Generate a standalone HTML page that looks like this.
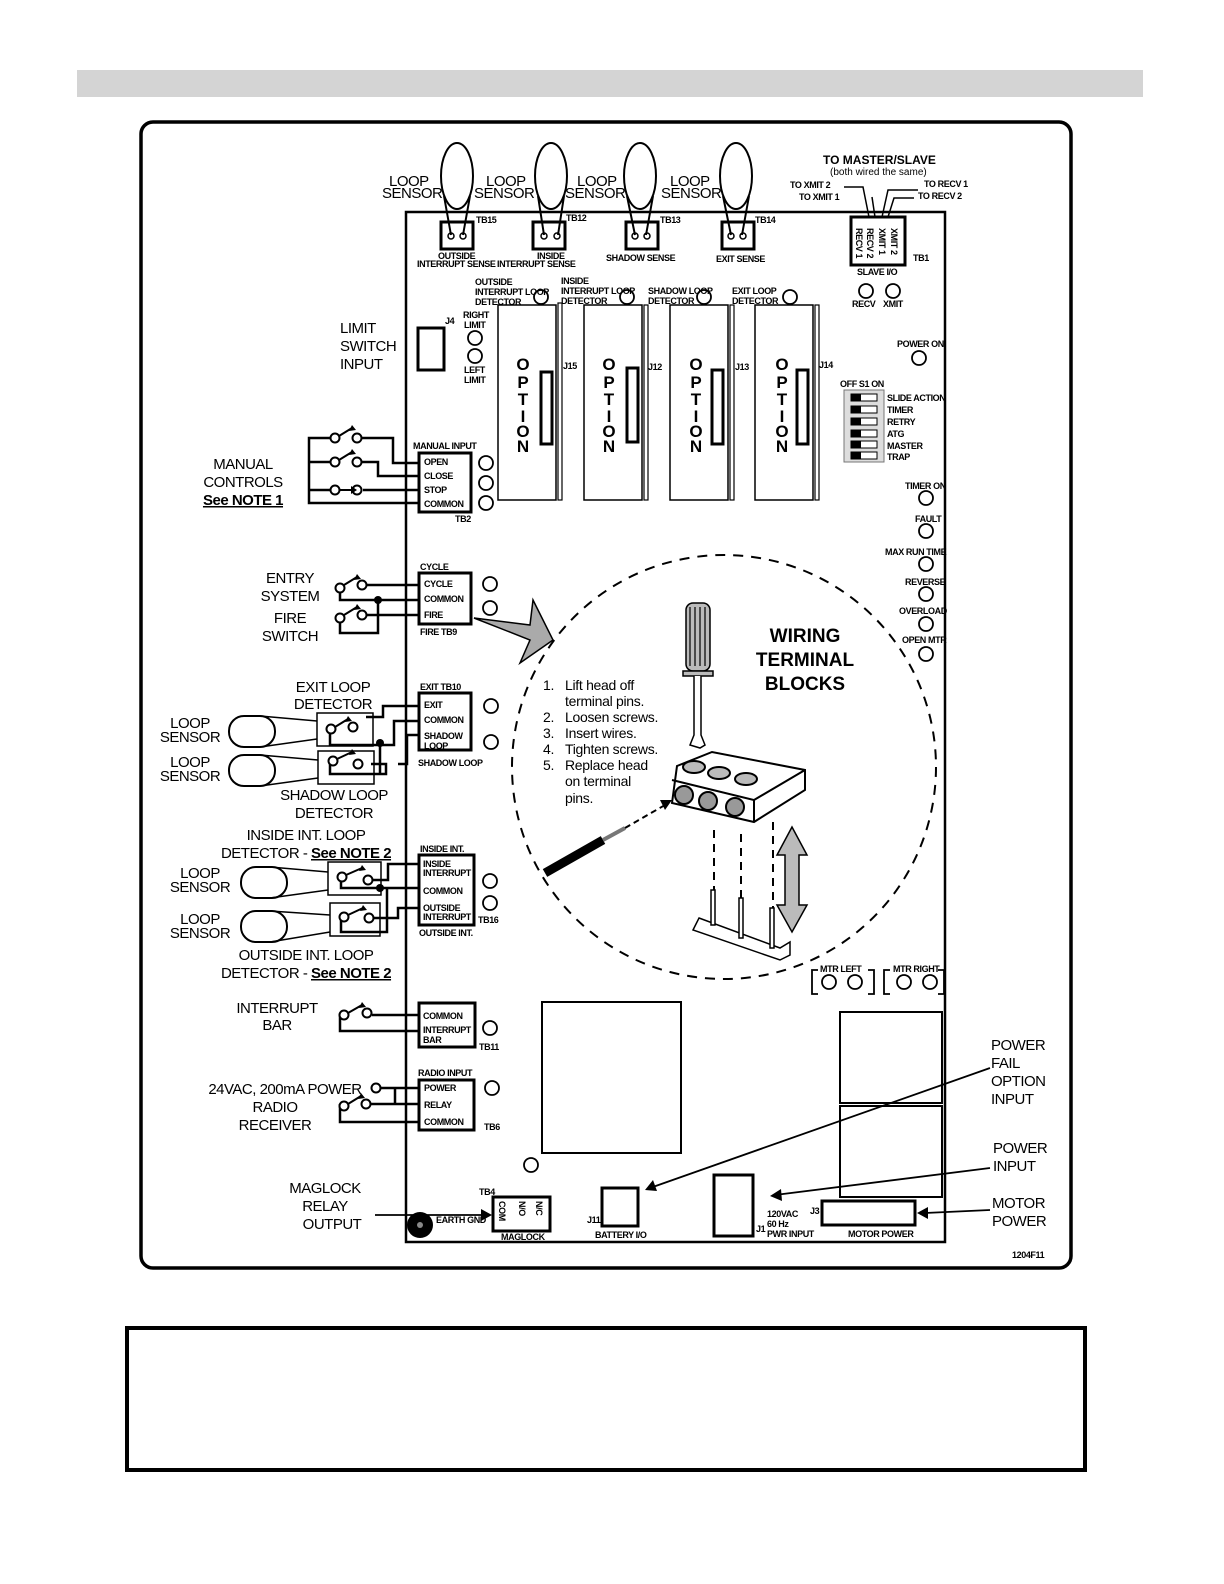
<!DOCTYPE html>
<html><head><meta charset="utf-8"><style>
html,body{margin:0;padding:0;background:#fff;overflow:hidden;width:1224px;height:1584px}
svg{display:block}
text{font-family:"Liberation Sans",sans-serif;fill:#000}
.s{font-size:9px;font-weight:bold;letter-spacing:-0.4px}
.m{font-size:15px;letter-spacing:-0.5px}
.b{font-size:19px;font-weight:bold}
.i{font-size:14px;letter-spacing:-0.3px}
</style></head><body>
<svg width="1224" height="1584" viewBox="0 0 1224 1584" xmlns="http://www.w3.org/2000/svg">
<rect x="77" y="70" width="1066" height="27" fill="#d4d4d4"/>
<rect x="141" y="122" width="930" height="1146" rx="12" fill="none" stroke="#000" stroke-width="3.5"/>
<rect x="127" y="1328" width="958" height="142" fill="none" stroke="#000" stroke-width="4"/>

<rect x="406" y="212" width="539" height="1030" fill="none" stroke="#000" stroke-width="2.5"/>

<g fill="none" stroke="#000" stroke-width="2">
<ellipse cx="457" cy="176" rx="16" ry="33"/><path d="M444 196 L451 235 M470 196 L463 235"/>
<ellipse cx="551" cy="176" rx="16" ry="33"/><path d="M538 196 L544 235 M564 196 L558 235"/>
<ellipse cx="640" cy="176" rx="16" ry="33"/><path d="M627 196 L635 235 M653 196 L646 235"/>
<ellipse cx="736" cy="176" rx="16" ry="33"/><path d="M723 196 L731 235 M749 196 L742 235"/>
</g>
<g fill="none" stroke="#000" stroke-width="3">
<rect x="441" y="222" width="32" height="27"/><rect x="533" y="222" width="32" height="27"/>
<rect x="626" y="222" width="32" height="27"/><rect x="722" y="222" width="32" height="27"/>
<rect x="851" y="217" width="54" height="48"/>
</g>
<g fill="none" stroke="#000" stroke-width="1.5">
<circle cx="451" cy="236" r="3"/><circle cx="463" cy="236" r="3"/>
<circle cx="544" cy="236" r="3"/><circle cx="557" cy="236" r="3"/>
<circle cx="635" cy="236" r="3"/><circle cx="647" cy="236" r="3"/>
<circle cx="731" cy="236" r="3"/><circle cx="743" cy="236" r="3"/>
<path d="M844 187 L863 187 L869 217 M872 197 L875 217 M882 217 L888 190 L918 190 M888 217 L894 198 L914 198"/>
</g>
<text class="m" x="389" y="186">LOOP</text><text class="m" x="382" y="198">SENSOR</text>
<text class="m" x="486" y="186">LOOP</text><text class="m" x="474" y="198">SENSOR</text>
<text class="m" x="577" y="186">LOOP</text><text class="m" x="565" y="198">SENSOR</text>
<text class="m" x="670" y="186">LOOP</text><text class="m" x="661" y="198">SENSOR</text>
<text class="s" x="476" y="223">TB15</text><text class="s" x="566" y="221">TB12</text>
<text class="s" x="660" y="223">TB13</text><text class="s" x="755" y="223">TB14</text>
<text class="s" x="438" y="259">OUTSIDE</text><text class="s" x="417" y="267">INTERRUPT SENSE</text>
<text class="s" x="537" y="259">INSIDE</text><text class="s" x="497" y="267">INTERRUPT SENSE</text>
<text class="s" x="606" y="261">SHADOW SENSE</text><text class="s" x="716" y="262">EXIT SENSE</text>
<text x="823" y="164" style="font-size:12px;font-weight:bold">TO MASTER/SLAVE</text>
<text x="830" y="175" style="font-size:10px">(both wired the same)</text>
<text class="s" x="790" y="188">TO XMIT 2</text><text class="s" x="799" y="200">TO XMIT 1</text>
<text class="s" x="924" y="187">TO RECV 1</text><text class="s" x="918" y="199">TO RECV 2</text>
<text class="s" transform="translate(856,228) rotate(90)">RECV 1</text>
<text class="s" transform="translate(867,228) rotate(90)">RECV 2</text>
<text class="s" transform="translate(879,228) rotate(90)">XMIT 1</text>
<text class="s" transform="translate(891,228) rotate(90)">XMIT 2</text>
<text class="s" x="913" y="261">TB1</text>
<text class="s" x="857" y="275">SLAVE I/O</text>
<text class="s" x="852" y="307">RECV</text><text class="s" x="883" y="307">XMIT</text>

<g fill="none" stroke="#000" stroke-width="1.8">
<circle cx="866" cy="291" r="7"/><circle cx="893" cy="291" r="7"/>
<circle cx="919" cy="358" r="7"/>
<circle cx="541" cy="297" r="7"/><circle cx="627" cy="297" r="7"/><circle cx="704" cy="297" r="7"/><circle cx="790" cy="297" r="7"/>
<circle cx="475" cy="338" r="7"/><circle cx="475" cy="356" r="7"/>
<circle cx="486" cy="463" r="7"/><circle cx="486" cy="483" r="7"/><circle cx="486" cy="503" r="7"/>
<circle cx="490" cy="584" r="7"/><circle cx="490" cy="608" r="7"/>
<circle cx="491" cy="706" r="7"/><circle cx="491" cy="742" r="7"/>
<circle cx="490" cy="881" r="7"/><circle cx="490" cy="903" r="7"/>
<circle cx="490" cy="1028" r="7"/><circle cx="492" cy="1088" r="7"/>
<circle cx="531" cy="1165" r="7"/>
<circle cx="926" cy="498" r="7"/><circle cx="926" cy="531" r="7"/><circle cx="926" cy="564" r="7"/>
<circle cx="926" cy="594" r="7"/><circle cx="926" cy="624" r="7"/><circle cx="926" cy="654" r="7"/>
<circle cx="829" cy="982" r="7"/><circle cx="855" cy="982" r="7"/><circle cx="904" cy="982" r="7"/><circle cx="930" cy="982" r="7"/>
<path d="M818 970 L812 970 L812 994 L818 994 M868 970 L874 970 L874 994 L868 994 M890 970 L884 970 L884 994 L890 994 M938 970 L944 970 L944 994 L938 994"/>
</g>
<text class="s" x="897" y="347">POWER ON</text>
<text class="s" x="905" y="489">TIMER ON</text><text class="s" x="915" y="522">FAULT</text>
<text class="s" x="885" y="555">MAX RUN TIME</text><text class="s" x="905" y="585">REVERSE</text>
<text class="s" x="899" y="614">OVERLOAD</text><text class="s" x="902" y="643">OPEN MTR</text>
<text class="s" x="820" y="972">MTR LEFT</text><text class="s" x="893" y="972">MTR RIGHT</text>

<g fill="none" stroke="#000" stroke-width="1.5">
<rect x="498" y="305" width="58" height="195"/><rect x="558" y="303" width="4" height="197" stroke-width="1.2"/>
<rect x="584" y="305" width="58" height="195"/><rect x="644" y="305" width="4" height="195" stroke-width="1.2"/>
<rect x="670" y="305" width="58" height="195"/><rect x="730" y="305" width="4" height="195" stroke-width="1.2"/>
<rect x="755" y="305" width="58" height="195"/><rect x="815" y="305" width="4" height="195" stroke-width="1.2"/>
</g>
<g fill="none" stroke="#000" stroke-width="3">
<rect x="541" y="372" width="11" height="72"/><rect x="627" y="368" width="11" height="74"/>
<rect x="712" y="370" width="11" height="74"/><rect x="797" y="370" width="11" height="74"/>
<rect x="418" y="328" width="26" height="42"/>
</g>
<g style="font-size:17px;font-weight:bold" text-anchor="middle">
<text x="523" y="370">O</text><text x="523" y="388">P</text><text x="523" y="405">T</text><text x="523" y="422">I</text><text x="523" y="437">O</text><text x="523" y="452">N</text>
<text x="609" y="370">O</text><text x="609" y="388">P</text><text x="609" y="405">T</text><text x="609" y="422">I</text><text x="609" y="437">O</text><text x="609" y="452">N</text>
<text x="696" y="370">O</text><text x="696" y="388">P</text><text x="696" y="405">T</text><text x="696" y="422">I</text><text x="696" y="437">O</text><text x="696" y="452">N</text>
<text x="782" y="370">O</text><text x="782" y="388">P</text><text x="782" y="405">T</text><text x="782" y="422">I</text><text x="782" y="437">O</text><text x="782" y="452">N</text>
</g>
<text class="s" x="563" y="369">J15</text><text class="s" x="648" y="370">J12</text>
<text class="s" x="735" y="370">J13</text><text class="s" x="819" y="368">J14</text>
<text class="s" x="475" y="285">OUTSIDE</text><text class="s" x="475" y="295">INTERRUPT LOOP</text><text class="s" x="475" y="305">DETECTOR</text>
<text class="s" x="561" y="284">INSIDE</text><text class="s" x="561" y="294">INTERRUPT LOOP</text><text class="s" x="561" y="304">DETECTOR</text>
<text class="s" x="648" y="294">SHADOW LOOP</text><text class="s" x="648" y="304">DETECTOR</text>
<text class="s" x="732" y="294">EXIT LOOP</text><text class="s" x="732" y="304">DETECTOR</text>
<text class="s" x="445" y="324">J4</text><text class="s" x="463" y="318">RIGHT</text><text class="s" x="464" y="328">LIMIT</text>
<text class="s" x="464" y="373">LEFT</text><text class="s" x="464" y="383">LIMIT</text>
<text class="m" x="340" y="333">LIMIT</text><text class="m" x="340" y="351">SWITCH</text><text class="m" x="340" y="369">INPUT</text>

<text class="s" x="840" y="387">OFF  S1  ON</text>
<rect x="844" y="390" width="40" height="72" fill="#ddd" stroke="#777"/>
<g fill="#fff" stroke="#000" stroke-width="1">
<rect x="851" y="394" width="26" height="7"/><rect x="851" y="406" width="26" height="7"/><rect x="851" y="418" width="26" height="7"/>
<rect x="851" y="430" width="26" height="7"/><rect x="851" y="441" width="26" height="7"/><rect x="851" y="452" width="26" height="7"/>
</g>
<g fill="#000"><rect x="851" y="394" width="10" height="7"/><rect x="851" y="406" width="10" height="7"/><rect x="851" y="418" width="10" height="7"/><rect x="851" y="430" width="10" height="7"/><rect x="851" y="441" width="10" height="7"/><rect x="851" y="452" width="10" height="7"/></g>
<text class="s" x="887" y="401">SLIDE ACTION</text><text class="s" x="887" y="413">TIMER</text><text class="s" x="887" y="425">RETRY</text>
<text class="s" x="887" y="437">ATG</text><text class="s" x="887" y="449">MASTER</text><text class="s" x="887" y="460">TRAP</text>

<g fill="none" stroke="#000" stroke-width="3">
<rect x="419" y="453" width="52" height="59"/>
<rect x="419" y="573" width="52" height="51"/>
<rect x="419" y="693" width="52" height="57"/>
<rect x="419" y="855" width="55" height="70"/>
<rect x="419" y="1003" width="56" height="44"/>
<rect x="419" y="1080" width="55" height="50"/>
</g>
<text class="s" x="413" y="449">MANUAL INPUT</text>
<text class="s" x="424" y="465">OPEN</text><text class="s" x="424" y="479">CLOSE</text><text class="s" x="424" y="493">STOP</text><text class="s" x="424" y="507">COMMON</text>
<text class="s" x="455" y="522">TB2</text>
<text class="s" x="420" y="570">CYCLE</text>
<text class="s" x="424" y="587">CYCLE</text><text class="s" x="424" y="602">COMMON</text><text class="s" x="424" y="618">FIRE</text>
<text class="s" x="420" y="635">FIRE    TB9</text>
<text class="s" x="420" y="690">EXIT    TB10</text>
<text class="s" x="424" y="708">EXIT</text><text class="s" x="424" y="723">COMMON</text><text class="s" x="424" y="739">SHADOW</text><text class="s" x="424" y="749">LOOP</text>
<text class="s" x="418" y="766">SHADOW LOOP</text>
<text class="s" x="420" y="852">INSIDE INT.</text>
<text class="s" x="423" y="867">INSIDE</text><text class="s" x="423" y="876">INTERRUPT</text><text class="s" x="423" y="894">COMMON</text>
<text class="s" x="423" y="911">OUTSIDE</text><text class="s" x="423" y="920">INTERRUPT</text>
<text class="s" x="478" y="923">TB16</text><text class="s" x="419" y="936">OUTSIDE INT.</text>
<text class="s" x="423" y="1019">COMMON</text><text class="s" x="423" y="1033">INTERRUPT</text><text class="s" x="423" y="1043">BAR</text>
<text class="s" x="479" y="1050">TB11</text>
<text class="s" x="418" y="1076">RADIO INPUT</text>
<text class="s" x="424" y="1091">POWER</text><text class="s" x="424" y="1108">RELAY</text><text class="s" x="424" y="1125">COMMON</text>
<text class="s" x="484" y="1130">TB6</text>

<g fill="none" stroke="#000" stroke-width="2.5">
<path d="M419 463 L393 463 L393 438 L362 438 M331 438 L309 438 L309 503 L419 503"/>
<path d="M419 476 L378 476 L378 462 L362 462 M331 462 L309 462"/>
<path d="M419 490 L363 490 M331 490 L309 490"/>
<path d="M419 585 L367 585 M340 585 L340 600 L419 600 M419 615 L367 615 M340 615 L340 633 L378 633 L378 600"/>
<path d="M419 706 L383 706 L383 717 L366 717 M419 721 L394 721 L394 745 L330 745 L330 730 M419 735 L407 735 L407 764 L398 764 M371 764 L386 764 L386 774 L330 774 L330 760 M380 745 L380 773"/>
<path d="M419 864 L388 864 L388 880 L372 880 M419 888 L341 888 L341 878 M419 908 L398 908 L398 918 L374 918 M341 918 L341 932 L387 932 L387 888"/>
<path d="M419 1015 L372 1015 M344 1015 L340 1015 L340 1031 L419 1031"/>
<path d="M380 1088 L419 1088 M419 1104 L371 1104 M340 1104 L340 1122 L419 1122 M395 1088 L395 1104"/>
</g>
<g fill="#fff" stroke="#000" stroke-width="2">
<circle cx="335" cy="438" r="4.5"/><circle cx="357" cy="438" r="4.5"/>
<circle cx="335" cy="462" r="4.5"/><circle cx="357" cy="462" r="4.5"/>
<circle cx="335" cy="490" r="4.5"/><circle cx="357" cy="490" r="4.5"/>
<circle cx="340" cy="588" r="4.5"/><circle cx="362" cy="585" r="4.5"/>
<circle cx="340" cy="618" r="4.5"/><circle cx="362" cy="615" r="4.5"/>
<circle cx="331" cy="729" r="4.5"/><circle cx="353" cy="727" r="4.5"/>
<circle cx="333" cy="761" r="4.5"/><circle cx="358" cy="764" r="4.5"/>
<circle cx="342" cy="877" r="4.5"/><circle cx="368" cy="880" r="4.5"/>
<circle cx="344" cy="917" r="4.5"/><circle cx="369" cy="918" r="4.5"/>
<circle cx="344" cy="1015" r="4.5"/><circle cx="367" cy="1013" r="4.5"/>
<circle cx="376" cy="1088" r="4.5"/>
<circle cx="344" cy="1106" r="4.5"/><circle cx="366" cy="1104" r="4.5"/>
</g>
<g fill="none" stroke="#000" stroke-width="2">
<path d="M339 436 L352 428 M339 460 L352 452 M339 490 L351 490 M344 585 L357 577 M344 615 L357 607 M335 727 L348 719 M337 759 L352 752 M346 875 L362 868 M348 915 L363 908 M348 1013 L362 1005 M348 1104 L361 1096"/>
</g>
<g fill="#000"><path d="M352 425 L356 430 L349 431Z M352 449 L356 454 L349 455Z M351 486 L357 490 L351 494Z M357 574 L361 579 L354 580Z M357 604 L361 609 L354 610Z M348 716 L352 721 L345 722Z M352 749 L356 754 L349 755Z M362 865 L366 870 L359 871Z M363 905 L367 910 L360 911Z M362 1002 L366 1007 L359 1008Z M361 1093 L365 1098 L358 1099Z"/>
<circle cx="378" cy="600" r="4"/><circle cx="380" cy="743" r="4"/><circle cx="380" cy="888" r="4"/></g>
<g fill="none" stroke="#000" stroke-width="1.5">
<rect x="317" y="713" width="56" height="33"/><rect x="318" y="751" width="56" height="33"/>
<rect x="328" y="862" width="53" height="33"/><rect x="330" y="903" width="50" height="33"/>
<rect x="229" y="716" width="46" height="31" rx="15" stroke-width="2"/><path d="M260 716 L317 721 M260 747 L317 739"/>
<rect x="229" y="755" width="46" height="31" rx="15" stroke-width="2"/><path d="M260 755 L318 760 M260 786 L318 778"/>
<rect x="241" y="867" width="46" height="31" rx="15" stroke-width="2"/><path d="M270 867 L328 872 M270 898 L328 890"/>
<rect x="241" y="911" width="46" height="31" rx="15" stroke-width="2"/><path d="M270 911 L330 915 M270 942 L330 932"/>
</g>
<g text-anchor="middle">
<text class="m" x="243" y="469">MANUAL</text><text class="m" x="243" y="487">CONTROLS</text>
<text class="m" x="243" y="505" font-weight="bold" text-decoration="underline">See NOTE 1</text>
<text class="m" x="290" y="583">ENTRY</text><text class="m" x="290" y="601">SYSTEM</text>
<text class="m" x="290" y="623">FIRE</text><text class="m" x="290" y="641">SWITCH</text>
<text class="m" x="333" y="692">EXIT LOOP</text><text class="m" x="333" y="709">DETECTOR</text>
<text class="m" x="190" y="728">LOOP</text><text class="m" x="190" y="742">SENSOR</text>
<text class="m" x="190" y="767">LOOP</text><text class="m" x="190" y="781">SENSOR</text>
<text class="m" x="334" y="800">SHADOW LOOP</text><text class="m" x="334" y="818">DETECTOR</text>
<text class="m" x="306" y="840">INSIDE INT. LOOP</text>
<text class="m" x="306" y="858">DETECTOR - <tspan font-weight="bold" text-decoration="underline">See NOTE 2</tspan></text>
<text class="m" x="200" y="878">LOOP</text><text class="m" x="200" y="892">SENSOR</text>
<text class="m" x="200" y="924">LOOP</text><text class="m" x="200" y="938">SENSOR</text>
<text class="m" x="306" y="960">OUTSIDE INT. LOOP</text>
<text class="m" x="306" y="978">DETECTOR - <tspan font-weight="bold" text-decoration="underline">See NOTE 2</tspan></text>
<text class="m" x="277" y="1013">INTERRUPT</text><text class="m" x="277" y="1030">BAR</text>
<text class="m" x="285" y="1094">24VAC, 200mA POWER</text>
<text class="m" x="275" y="1112">RADIO</text><text class="m" x="275" y="1130">RECEIVER</text>
<text class="m" x="325" y="1193">MAGLOCK</text><text class="m" x="325" y="1211">RELAY</text><text class="m" x="332" y="1229">OUTPUT</text>
</g>

<path d="M474 618 L530 640 L520 663 L553 640 L533 600 L530 625 Z" fill="#aaa" stroke="#000" stroke-width="1.5"/>

<circle cx="724" cy="767" r="212" fill="none" stroke="#000" stroke-width="2" stroke-dasharray="10 8"/>
<g style="font-size:19px;font-weight:bold" text-anchor="middle">
<text x="805" y="642">WIRING</text><text x="805" y="666">TERMINAL</text><text x="805" y="690">BLOCKS</text>
</g>
<g class="i">
<text x="543" y="690">1.</text><text x="565" y="690">Lift head off</text><text x="565" y="706">terminal pins.</text>
<text x="543" y="722">2.</text><text x="565" y="722">Loosen screws.</text>
<text x="543" y="738">3.</text><text x="565" y="738">Insert wires.</text>
<text x="543" y="754">4.</text><text x="565" y="754">Tighten screws.</text>
<text x="543" y="770">5.</text><text x="565" y="770">Replace head</text><text x="565" y="786">on terminal</text><text x="565" y="803">pins.</text>
</g>
<g stroke="#000" stroke-width="1.5">
<rect x="686" y="603" width="24" height="68" rx="7" fill="#bbb"/>
<path d="M690 607 V666 M695 607 V666 M700 607 V666 M705 607 V666" stroke-width="1.2"/>
<path d="M683 671 H713 V676 H683 Z" fill="#bbb"/>
<path d="M694 676 V735 L690 745 L700 748 L705 745 L701 735 V676" fill="#fff"/>
</g>
<g stroke="#000" stroke-width="2">
<path d="M677 766 L712 752 L805 770 L805 790 L754 822 L672 803 Z" fill="#fff"/>
<path d="M672 780 L754 800 L754 822 M754 800 L805 770" fill="none"/>
<circle cx="684" cy="795" r="9" fill="#999"/><circle cx="708" cy="801" r="9" fill="#999"/><circle cx="735" cy="807" r="9" fill="#999"/>
<ellipse cx="694" cy="767" rx="11" ry="6" fill="#bbb"/><ellipse cx="719" cy="773" rx="11" ry="6" fill="#bbb"/><ellipse cx="746" cy="779" rx="11" ry="6" fill="#bbb"/>
</g>
<path d="M545 873 L603 840" stroke="#000" stroke-width="9"/>
<path d="M603 840 L625 828" stroke="#777" stroke-width="4"/>
<path d="M625 828 L665 805" stroke="#000" stroke-width="2" stroke-dasharray="6 4"/>
<path d="M672 800 L660 800 L665 810 Z" fill="#000"/>
<g stroke="#000" stroke-width="2" stroke-dasharray="8 6"><path d="M714 830 V890 M741 834 V898 M773 822 V908"/></g>
<g stroke="#000" stroke-width="1.5" fill="#fff">
<path d="M699 918 L780 948 L790 942 L790 955 L780 960 L693 930 Z"/>
<rect x="711" y="890" width="4" height="35"/><rect x="739" y="898" width="4" height="40"/><rect x="770" y="908" width="4" height="40"/>
</g>
<path d="M792 827 L807 855 L799 855 L799 905 L807 905 L792 932 L777 905 L785 905 L785 855 L777 855 Z" fill="#bbb" stroke="#000" stroke-width="1.5"/>

<g fill="none" stroke="#000">
<rect x="542" y="1002" width="139" height="151" stroke-width="2"/>
<rect x="840" y="1012" width="102" height="91" stroke-width="2"/>
<rect x="840" y="1106" width="102" height="91" stroke-width="2"/>
<rect x="493" y="1197" width="57" height="34" stroke-width="3"/>
<rect x="602" y="1188" width="36" height="38" stroke-width="3"/>
<rect x="714" y="1175" width="39" height="61" stroke-width="3"/>
<rect x="822" y="1201" width="93" height="24" stroke-width="3"/>
</g>
<circle cx="420" cy="1225" r="13" fill="#000"/><circle cx="420" cy="1225" r="3" fill="#888"/>
<text class="s" x="436" y="1223">EARTH GND</text>
<text class="s" x="479" y="1195">TB4</text>
<text class="s" transform="translate(499,1201) rotate(90)">COM</text>
<text class="s" transform="translate(519,1201) rotate(90)">N/O</text>
<text class="s" transform="translate(536,1201) rotate(90)">N/C</text>
<text class="s" x="501" y="1240">MAGLOCK</text>
<text class="s" x="587" y="1223">J11</text><text class="s" x="595" y="1238">BATTERY I/O</text>
<text class="s" x="767" y="1217">120VAC</text><text class="s" x="767" y="1227">60 Hz</text><text class="s" x="767" y="1237">PWR INPUT</text>
<text class="s" x="756" y="1232">J1</text><text class="s" x="810" y="1214">J3</text>
<text class="s" x="848" y="1237">MOTOR POWER</text>
<text class="s" x="1012" y="1258">1204F11</text>
<g fill="none" stroke="#000" stroke-width="1.8">
<path d="M375 1215 L485 1215"/><path d="M990 1068 L650 1188"/><path d="M990 1168 L775 1195"/><path d="M990 1210 L925 1213"/>
</g>
<g fill="#000">
<path d="M492 1215 L481 1209 L481 1221Z"/><path d="M645 1190 L653 1180 L657 1191Z"/>
<path d="M770 1196 L781 1189 L782 1201Z"/><path d="M917 1213 L928 1207 L928 1219Z"/>
</g>
<text class="m" x="991" y="1050">POWER</text><text class="m" x="991" y="1068">FAIL</text><text class="m" x="991" y="1086">OPTION</text><text class="m" x="991" y="1104">INPUT</text>
<text class="m" x="993" y="1153">POWER</text><text class="m" x="993" y="1171">INPUT</text>
<text class="m" x="992" y="1208">MOTOR</text><text class="m" x="992" y="1226">POWER</text>
</svg>
</body></html>
